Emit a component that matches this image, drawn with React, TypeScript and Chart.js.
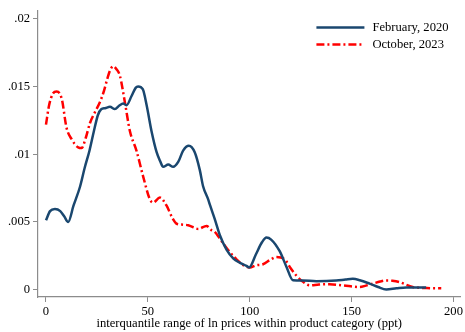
import React, { useEffect, useRef } from "react";
import { Chart, registerables } from "chart.js";

Chart.register(...registerables);

const febX = [0, 2, 4.4, 7, 9, 10.9, 13.5, 16.7, 19, 21.4, 23.5, 25.5, 27.1, 29, 31.4, 33.8, 36, 37.9, 39.5, 42, 44, 45.2, 47.5, 49.4, 51.8, 54.3, 56, 57.5, 60, 62.4, 64.9, 67.3, 70.1, 73, 75.5, 77.1, 79.6, 80.6, 82.8, 85.3, 88.6, 92, 95, 98.4, 99.7, 103, 106, 108.2, 110.5, 114.7, 118, 121.2, 126, 132.7, 142.5, 147, 150.6, 154, 158.8, 163, 167, 172, 176.8, 186.6];
const febY = [0.00512, 0.0058, 0.00595, 0.0058, 0.0054, 0.005, 0.0062, 0.0076, 0.009, 0.0103, 0.0117, 0.0129, 0.01332, 0.0134, 0.0135, 0.01334, 0.0136, 0.01375, 0.01362, 0.0143, 0.0149, 0.015, 0.0148, 0.01362, 0.0117, 0.01015, 0.0095, 0.00907, 0.00924, 0.00907, 0.00943, 0.01027, 0.01063, 0.01015, 0.00883, 0.00764, 0.00667, 0.0062, 0.00523, 0.00404, 0.00296, 0.0023, 0.002, 0.00176, 0.00164, 0.0026, 0.0035, 0.00385, 0.0037, 0.00284, 0.0017, 0.0007, 0.00068, 0.00063, 0.00068, 0.00075, 0.0008, 0.0007, 0.00045, 0.0002, 0.00002, 0.0001, 0.00016, 0.00016];

const octX = [0, 1.5, 3.5, 5.2, 7.7, 10.1, 12.6, 15.8, 17.5, 19.5, 21.6, 24, 26.5, 28.5, 29.8, 31.5, 33, 34.5, 36.3, 38.7, 41.2, 44.4, 47.7, 51, 52.6, 55.9, 59.2, 62, 64.1, 67.3, 69.8, 74.7, 78.8, 81.2, 82.8, 86.1, 89, 93.5, 97, 100, 103, 106.5, 110, 113, 117.2, 120, 122.9, 126, 129.4, 134, 139.2, 145.7, 153.9, 157, 160.5, 164, 167, 170, 173.5, 177, 180, 187, 194];
const octY = [0.01219, 0.0136, 0.0145, 0.01463, 0.01411, 0.01195, 0.01111, 0.01051, 0.01046, 0.0112, 0.01231, 0.0131, 0.01386, 0.0147, 0.01542, 0.0162, 0.0165, 0.0163, 0.01578, 0.01386, 0.0117, 0.01027, 0.00835, 0.00667, 0.00643, 0.0068, 0.0062, 0.0053, 0.00487, 0.0048, 0.00476, 0.00449, 0.00471, 0.0044, 0.00428, 0.0036, 0.003, 0.00224, 0.0018, 0.00164, 0.0018, 0.00188, 0.0022, 0.00241, 0.00224, 0.0016, 0.00104, 0.0006, 0.00032, 0.00038, 0.0004, 0.00032, 0.0002, 0.0003, 0.00045, 0.0006, 0.00068, 0.00066, 0.00056, 0.00035, 0.0002, 0.00012, 0.0001];

const xTicks = [0, 50, 100, 150, 200];
const yTicks = [0, 0.005, 0.01, 0.015, 0.02];
const seriesLabels = ["February, 2020", "October, 2023"];
const xTitle = "interquantile range of ln prices within product category (ppt)";

const BLUE = "#1a476f";
const RED = "#ff0000";
const RED_DASH = [8, 3, 2, 3];
const FONT = "'Liberation Serif', 'Times New Roman', serif";
const FS = 12.6;

const legendPlugin = {
  id: "customLegend",
  afterDraw(chart: any) {
    const { ctx, chartArea } = chart;
    const right = chartArea.right;
    const top = chartArea.top;
    const items = [
      { label: seriesLabels[0], color: BLUE, dash: [] as number[] },
      { label: seriesLabels[1], color: RED, dash: RED_DASH },
    ];
    ctx.save();
    items.forEach((it, i) => {
      const y = top + 17 + i * 17;
      ctx.beginPath();
      ctx.setLineDash(it.dash);
      ctx.strokeStyle = it.color;
      ctx.lineWidth = 2.5;
      ctx.moveTo(right - 144, y);
      ctx.lineTo(right - 96, y);
      ctx.stroke();
      ctx.setLineDash([]);
      ctx.fillStyle = "#000";
      ctx.font = `${FS}px ${FONT}`;
      ctx.textAlign = "left";
      ctx.textBaseline = "middle";
      ctx.fillText(it.label, right - 88, y);
    });
    ctx.restore();
  },
};

export default function App() {
  const ref = useRef<HTMLCanvasElement | null>(null);
  useEffect(() => {
    if (!ref.current) return;
    const chart = new Chart(ref.current, {
      type: "line",
      data: {
        datasets: [
          {
            label: seriesLabels[0],
            data: febX.map((x, i) => ({ x, y: febY[i] })),
            borderColor: BLUE,
            borderWidth: 2.5,
            pointRadius: 0,
            cubicInterpolationMode: "monotone",
            fill: false,
          },
          {
            label: seriesLabels[1],
            data: octX.map((x, i) => ({ x, y: octY[i] })),
            borderColor: RED,
            borderWidth: 2.5,
            borderDash: RED_DASH,
            pointRadius: 0,
            cubicInterpolationMode: "monotone",
            fill: false,
          },
        ],
      },
      options: {
        animation: false,
        responsive: false,
        maintainAspectRatio: false,
        layout: { padding: { top: 3, right: 4, left: 0, bottom: 0 } },
        plugins: { legend: { display: false }, tooltip: { enabled: false } },
        scales: {
          x: {
            type: "linear",
            min: -3.92,
            max: 203.4,
            afterBuildTicks: (s: any) => {
              s.ticks = xTicks.map((v) => ({ value: v }));
            },
            afterFit: (s: any) => {
              s.height = 35;
            },
            ticks: {
              color: "#000",
              font: { family: FONT, size: FS },
              padding: 2,
              maxRotation: 0,
              autoSkip: false,
              callback: (v: any) => String(v),
            },
            grid: {
              drawOnChartArea: false,
              drawTicks: true,
              tickLength: 5,
              color: "#8c8c8c",
            },
            border: { display: true, color: "#8c8c8c", width: 1.2 },
            title: {
              display: true,
              text: xTitle,
              color: "#000",
              font: { family: FONT, size: FS },
              padding: { top: 0, bottom: 1 },
            },
          },
          y: {
            type: "linear",
            min: -0.00054,
            max: 0.02061,
            afterBuildTicks: (s: any) => {
              s.ticks = yTicks.map((v) => ({ value: v }));
            },
            afterFit: (s: any) => {
              s.width = 38;
            },
            ticks: {
              color: "#000",
              font: { family: FONT, size: FS },
              padding: 3,
              autoSkip: false,
              callback: (v: any) => (v === 0 ? "0" : String(+v.toFixed(4)).replace(/^0\./, ".")),
            },
            grid: {
              drawOnChartArea: false,
              drawTicks: true,
              tickLength: 5,
              color: "#8c8c8c",
            },
            border: { display: true, color: "#8c8c8c", width: 1.2 },
          },
        },
      },
      plugins: [legendPlugin],
    } as any);
    return () => chart.destroy();
  }, []);
  return (
    <div style={{ position: "fixed", left: 0, top: 0, width: 465, height: 332, background: "#fff" }}>
      <canvas ref={ref} width={465} height={332} style={{ width: 465, height: 332, display: "block" }} />
    </div>
  );
}
